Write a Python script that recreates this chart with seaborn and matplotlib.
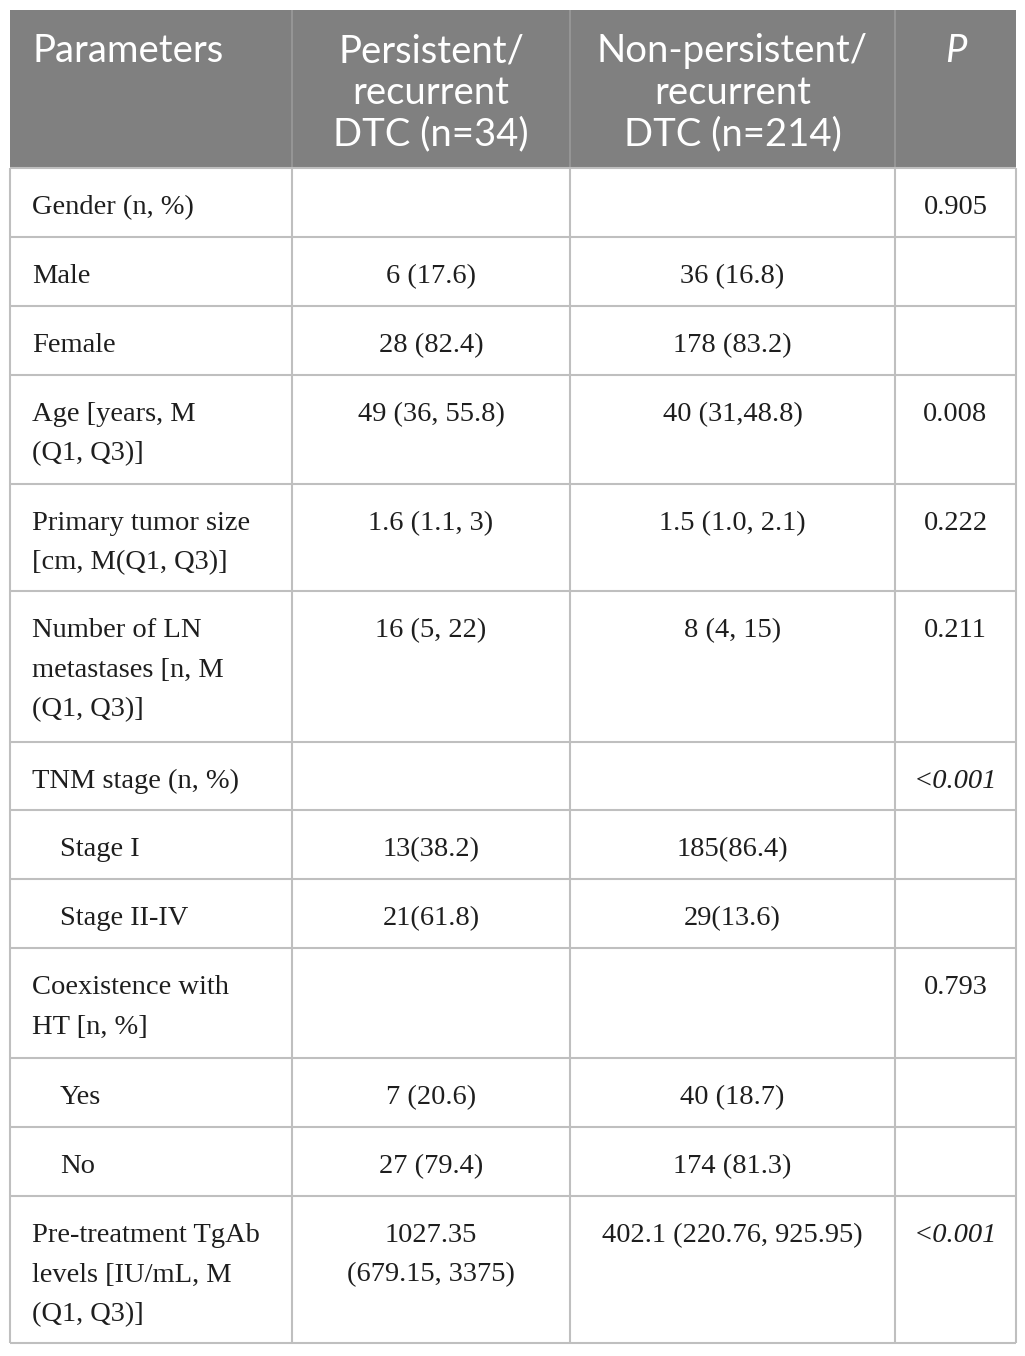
import matplotlib
matplotlib.use("Agg")
import matplotlib.pyplot as plt
import seaborn as sns

sns.set_theme(style="white")

# ---- table content ----
headers = ["Parameters", "Persistent/\nrecurrent\nDTC (n=34)", "Non-persistent/\nrecurrent\nDTC (n=214)", "P"]
params = [
    "Gender (n, %)", "Male", "Female", "Age [years, M\n(Q1, Q3)]",
    "Primary tumor size\n[cm, M(Q1, Q3)]", "Number of LN\nmetastases [n, M\n(Q1, Q3)]",
    "TNM stage (n, %)", "Stage I", "Stage II-IV", "Coexistence with\nHT [n, %]",
    "Yes", "No", "Pre-treatment TgAb\nlevels [IU/mL, M\n(Q1, Q3)]",
]
indented = [False, False, False, False, False, False, False, True, True, False, True, True, False]
persistent = ["", "6 (17.6)", "28 (82.4)", "49 (36, 55.8)", "1.6 (1.1, 3)", "16 (5, 22)",
              "", "13(38.2)", "21(61.8)", "", "7 (20.6)", "27 (79.4)", "1027.35\n(679.15, 3375)"]
non_persistent = ["", "36 (16.8)", "178 (83.2)", "40 (31,48.8)", "1.5 (1.0, 2.1)", "8 (4, 15)",
                  "", "185(86.4)", "29(13.6)", "", "40 (18.7)", "174 (81.3)", "402.1 (220.76, 925.95)"]
p_values = ["0.905", "", "", "0.008", "0.222", "0.211", "<0.001", "", "", "0.793", "", "", "<0.001"]

# ---- layout (pixels) ----
W, H = 1025, 1356
col_edges = [10, 292, 570, 895, 1016]
header_top, header_bot = 10, 168
row_edges = [168, 237, 306, 375, 484, 591, 742, 810, 879, 948, 1058, 1127, 1196, 1343]
first_off = 39.5
line_gap = 39.5
header_gap = 41.5

fig = plt.figure(figsize=(W / 100, H / 100), dpi=100)
ax = fig.add_axes([0, 0, 1, 1])
ax.set_xlim(0, W)
ax.set_ylim(H, 0)
ax.axis("off")

header_bg = "#808080"
grid = "#bfbfbf"
txt = "#1e1e1e"
serif = ["Liberation Serif", "DejaVu Serif"]
sans = ["Lato", "DejaVu Sans"]

# header background
ax.fill_between([col_edges[0], col_edges[-1]], header_top, header_bot, color=header_bg, lw=0)
for x in col_edges[1:-1]:
    ax.vlines(x, header_top, header_bot, color="#9a9a9a", lw=1.2)

# header text
for j, h in enumerate(headers):
    lines = h.split("\n")
    for i, ln in enumerate(lines):
        y = 51 + i * header_gap
        if j == 0:
            ax.text(32, y, ln, ha="left", va="center", color="white", fontsize=27.5, family=sans)
        else:
            cx = (col_edges[j] + col_edges[j + 1]) / 2
            ax.text(cx, y, ln, ha="center", va="center", color="white", fontsize=27.5,
                    family=sans, style="italic" if h == "P" else "normal")

# grid lines
for y in row_edges:
    ax.hlines(y, col_edges[0], col_edges[-1], color=grid, lw=1.5)
for x in col_edges:
    ax.vlines(x, header_bot, row_edges[-1], color=grid, lw=1.5)

# body text
fs = 20.5
for r in range(len(params)):
    top = row_edges[r]
    for i, ln in enumerate(params[r].split("\n")):
        ax.text(60 if indented[r] else 32, top + first_off + i * line_gap, ln, ha="left", va="center",
                color=txt, fontsize=fs, family=serif)
    for j, col in ((1, persistent), (2, non_persistent)):
        cx = (col_edges[j] + col_edges[j + 1]) / 2
        for i, ln in enumerate(col[r].split("\n")):
            if ln:
                ax.text(cx, top + first_off + i * line_gap, ln, ha="center", va="center",
                        color=txt, fontsize=fs, family=serif)
    pv = p_values[r]
    if pv:
        cx = (col_edges[3] + col_edges[4]) / 2
        ax.text(cx, top + first_off, pv, ha="center", va="center", color=txt, fontsize=fs,
                family=serif, style="italic" if pv.startswith("<") else "normal")

fig.savefig("out.png", dpi=100, facecolor="white")
